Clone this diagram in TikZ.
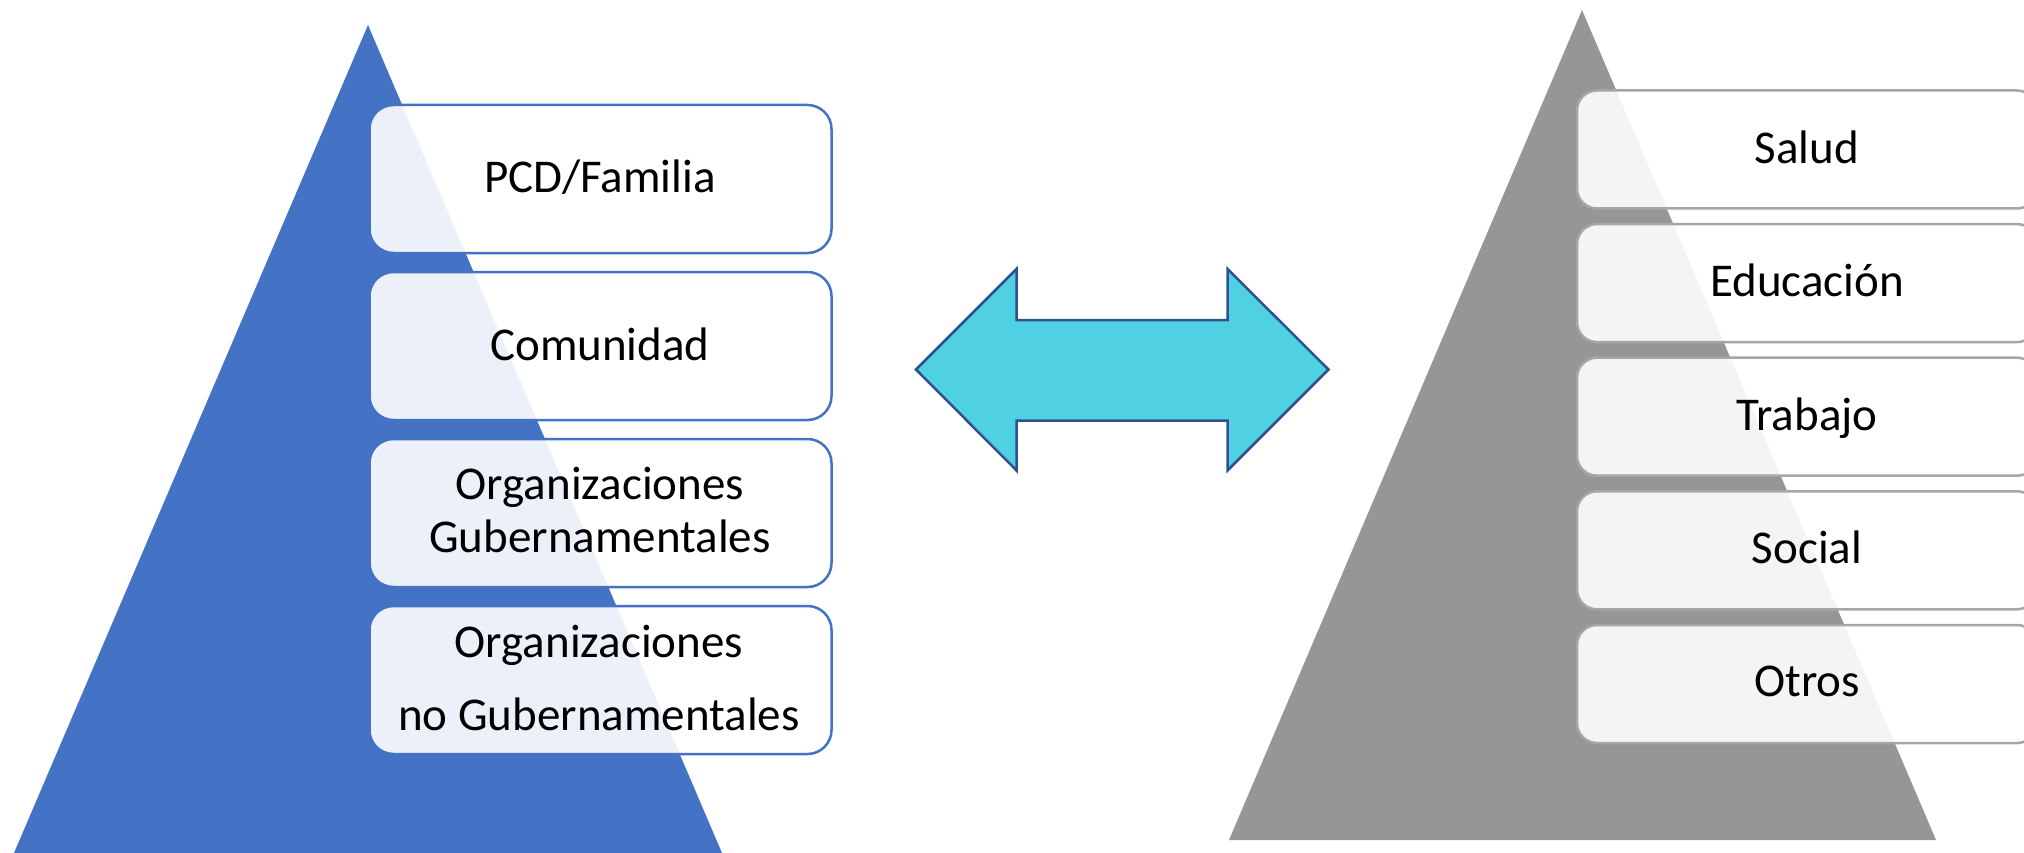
\documentclass[tikz,border=0pt]{standalone}
\usepackage{fontspec}
\setmainfont{Carlito}
\definecolor{pblue}{HTML}{4472C4}
\definecolor{pgray}{HTML}{969696}
\definecolor{acyan}{HTML}{4FD1E3}
\definecolor{aedge}{HTML}{2F528F}
\definecolor{gedge}{HTML}{A6A6A6}
\begin{document}
\begin{tikzpicture}[x=1pt,y=-1pt,
  lbox/.style={draw=pblue, line width=2.5pt, fill=white, fill opacity=0.9,
    rounded corners=24pt, minimum width=462pt, minimum height=148pt, inner sep=0pt},
  rbox/.style={draw=gedge, line width=2.5pt, fill=white, fill opacity=0.9,
    rounded corners=20pt, minimum width=460pt, minimum height=118pt, inner sep=0pt},
  txt/.style={inner sep=0pt, text=black, font=\fontsize{47pt}{56pt}\selectfont, anchor=base},
  dblarrow/.style={draw=aedge, fill=acyan, line width=2.5pt, line join=miter}
]
\useasboundingbox (0,0) rectangle (2024,853);
\clip (0,0) rectangle (2024,853);
\fill[white] (0,0) rectangle (2024,853);

% pyramids
\fill[pblue] (368,25) -- (722,853) -- (14,853) -- cycle;
\fill[pgray] (1582,10) -- (1936,840) -- (1229,840) -- cycle;

% left boxes
\node[lbox] (l1) at (600.5,179) {};
\node[lbox] (l2) at (600.5,346) {};
\node[lbox] (l3) at (600.5,513) {};
\node[lbox] (l4) at (600.5,680) {};

\node[txt] (lt1) at (600,193) {PCD/Familia};
\node[txt] (lt2) at (600,360) {Comunidad};
\node[txt, align=center, font=\fontsize{47pt}{52.5pt}\selectfont] (lt3) at (600,552) {Organizaciones\\Gubernamentales};
\node[txt, align=center, font=\fontsize{47pt}{73pt}\selectfont] (lt4) at (599,730) {Organizaciones\\no Gubernamentales};

% right boxes
\node[rbox] (r1) at (1807,149.5) {};
\node[rbox] (r2) at (1807,283.1) {};
\node[rbox] (r3) at (1807,416.7) {};
\node[rbox] (r4) at (1807,550.3) {};
\node[rbox] (r5) at (1807,684) {};

\node[txt] (rt1) at (1807,163.3) {Salud};
\node[txt] (rt2) at (1807,296.7) {Educación};
\node[txt] (rt3) at (1807,430) {Trabajo};
\node[txt] (rt4) at (1807,563.4) {Social};
\node[txt] (rt5) at (1807,696.8) {Otros};

% double arrow
\draw[dblarrow] (916,369.5) -- (1016.5,269) -- (1016.5,320) -- (1227.5,320)
  -- (1227.5,269) -- (1328.5,369.5) -- (1227.5,470.5) -- (1227.5,420.5)
  -- (1016.5,420.5) -- (1016.5,470.5) -- cycle;
\end{tikzpicture}
\end{document}
